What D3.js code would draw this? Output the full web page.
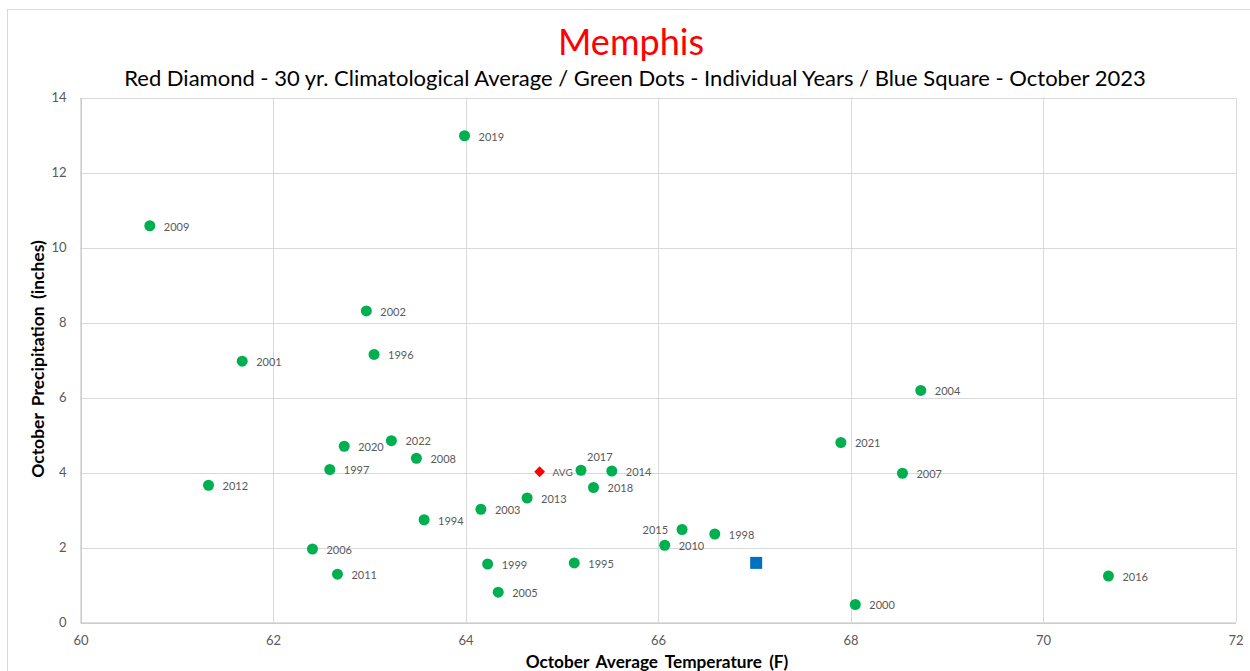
<!DOCTYPE html>
<html>
<head>
<meta charset="utf-8">
<script src="https://cdn.jsdelivr.net/npm/d3@7"></script>
<style>
  body { margin: 0; background: #fff; }
  svg { display: block; font-family: Lato, "Open Sans", sans-serif; }
  .grid line { stroke: #d9d9d9; stroke-width: 1; }
  .tick text { fill: #595959; font-size: 13px; }
  .lbl { fill: #595959; font-size: 11px; }
</style>
</head>
<body>
<svg id="chart" width="1250" height="671"></svg>
<script>
// individual years (green dots)
var years = [1994, 1995, 1996, 1997, 1998, 1999, 2000, 2001, 2002, 2003,
             2004, 2005, 2006, 2007, 2008, 2009, 2010, 2011, 2012, 2013,
             2014, 2015, 2016, 2017, 2018, 2019, 2020, 2021, 2022];
var temps = [63.57, 65.13, 63.05, 62.59, 66.59, 64.23, 68.05, 61.68, 62.97, 64.16,
             68.73, 64.34, 62.41, 68.54, 63.49, 60.72, 66.07, 62.67, 61.33, 64.64,
             65.52, 66.25, 70.68, 65.20, 65.33, 63.99, 62.74, 67.90, 63.23];
var precip = [2.74, 1.59, 7.15, 4.08, 2.36, 1.56, 0.48, 6.97, 8.31, 3.02,
              6.19, 0.81, 1.96, 3.98, 4.38, 10.58, 2.06, 1.29, 3.66, 3.32,
              4.04, 2.48, 1.24, 4.06, 3.60, 12.98, 4.70, 4.80, 4.85];

// 30 yr climatological average (red diamond) and October 2023 (blue square)
var avgPoint = { temp: 64.77, precip: 4.02 };
var current = { temp: 67.02, precip: 1.59 };

var xTicks = [60, 62, 64, 66, 68, 70, 72];
var yTicks = [0, 2, 4, 6, 8, 10, 12, 14];

// label placement exceptions
var labelLeft = [2015];
var labelAbove = [2017];

var svg = d3.select("#chart");

var x = d3.scaleLinear().domain([60, 72]).range([80.5, 1235.5]);
var y = d3.scaleLinear().domain([0, 14]).range([622.5, 97.5]);

// scale a text's font size so it spans a given width
function fit(sel, width) {
  var fs = parseFloat(sel.style("font-size"));
  var len = sel.node().getComputedTextLength();
  sel.style("font-size", (fs * width / len) + "px");
  return sel;
}

// outer chart border
svg.append("rect")
  .attr("x", 7.5).attr("y", 9.5)
  .attr("width", 1270).attr("height", 700)
  .attr("fill", "none").attr("stroke", "#d9d9d9");

// titles
svg.append("text")
  .attr("x", 631).attr("y", 55)
  .attr("text-anchor", "middle")
  .attr("fill", "#ff0000")
  .style("font-size", "35px")
  .text("Memphis")
  .call(fit, 146);

svg.append("text")
  .attr("x", 635).attr("y", 86)
  .attr("text-anchor", "middle")
  .attr("fill", "#000")
  .style("font-size", "21px")
  .text("Red Diamond - 30 yr. Climatological Average / Green Dots - Individual Years / Blue Square - October 2023")
  .call(fit, 1022);

// gridlines
var grid = svg.append("g").attr("class", "grid");
grid.selectAll(".v").data(xTicks).enter().append("line")
  .attr("x1", d => Math.round(x(d)) + 0.5).attr("x2", d => Math.round(x(d)) + 0.5)
  .attr("y1", y(14)).attr("y2", y(0));
grid.selectAll(".h").data(yTicks).enter().append("line")
  .attr("x1", x(60)).attr("x2", x(72))
  .attr("y1", d => Math.round(y(d)) + 0.5).attr("y2", d => Math.round(y(d)) + 0.5);

// axes
var xAxis = svg.append("g")
  .attr("transform", "translate(0," + y(0) + ")")
  .call(d3.axisBottom(x).tickValues(xTicks).tickSize(0).tickPadding(13));
xAxis.select(".domain").attr("stroke", "#bfbfbf");

var yAxis = svg.append("g")
  .attr("transform", "translate(" + x(60) + ",0)")
  .call(d3.axisLeft(y).tickValues(yTicks).tickSize(0).tickPadding(14));
yAxis.select(".domain").attr("stroke", "#bfbfbf");
svg.selectAll(".tick text").style("font-family", "Lato, sans-serif");

// axis titles
svg.append("text")
  .attr("x", 657).attr("y", 668)
  .attr("text-anchor", "middle")
  .style("font-size", "17px").style("font-weight", "bold").style("word-spacing", "3px")
  .text("October Average Temperature (F)")
  .call(fit, 263);

svg.append("text")
  .attr("transform", "translate(44,359) rotate(-90)")
  .attr("text-anchor", "middle")
  .style("font-size", "17px").style("font-weight", "bold").style("word-spacing", "3px")
  .text("October Precipitation (inches)")
  .call(fit, 238);

// green dots
var pts = years.map((yr, i) => ({ year: yr, temp: temps[i], precip: precip[i] }));

svg.append("g").selectAll("circle").data(pts).enter().append("circle")
  .attr("cx", d => x(d.temp))
  .attr("cy", d => y(d.precip))
  .attr("r", 5.5)
  .attr("fill", "#00b050");

svg.append("g").selectAll("text").data(pts).enter().append("text")
  .attr("class", "lbl")
  .attr("x", d => labelLeft.includes(d.year) ? x(d.temp) - 14 : labelAbove.includes(d.year) ? x(d.temp) + 6 : x(d.temp) + 14)
  .attr("y", d => labelAbove.includes(d.year) ? y(d.precip) - 13 : y(d.precip) + 1)
  .attr("dy", "0.35em")
  .attr("text-anchor", d => labelLeft.includes(d.year) ? "end" : "start")
  .text(d => d.year);

// average diamond
svg.append("path")
  .attr("d", d3.symbol().type(d3.symbolDiamond2).size(75))
  .attr("transform", "translate(" + x(avgPoint.temp) + "," + y(avgPoint.precip) + ")")
  .attr("fill", "#ff0000");
svg.append("text")
  .attr("class", "lbl")
  .attr("x", x(avgPoint.temp) + 13)
  .attr("y", y(avgPoint.precip) + 1)
  .attr("dy", "0.35em")
  .style("font-size", "10px")
  .text("AVG");

// October 2023 square
svg.append("rect")
  .attr("x", x(current.temp) - 6)
  .attr("y", y(current.precip) - 6)
  .attr("width", 12).attr("height", 12)
  .attr("fill", "#0070c0");
</script>
</body>
</html>
